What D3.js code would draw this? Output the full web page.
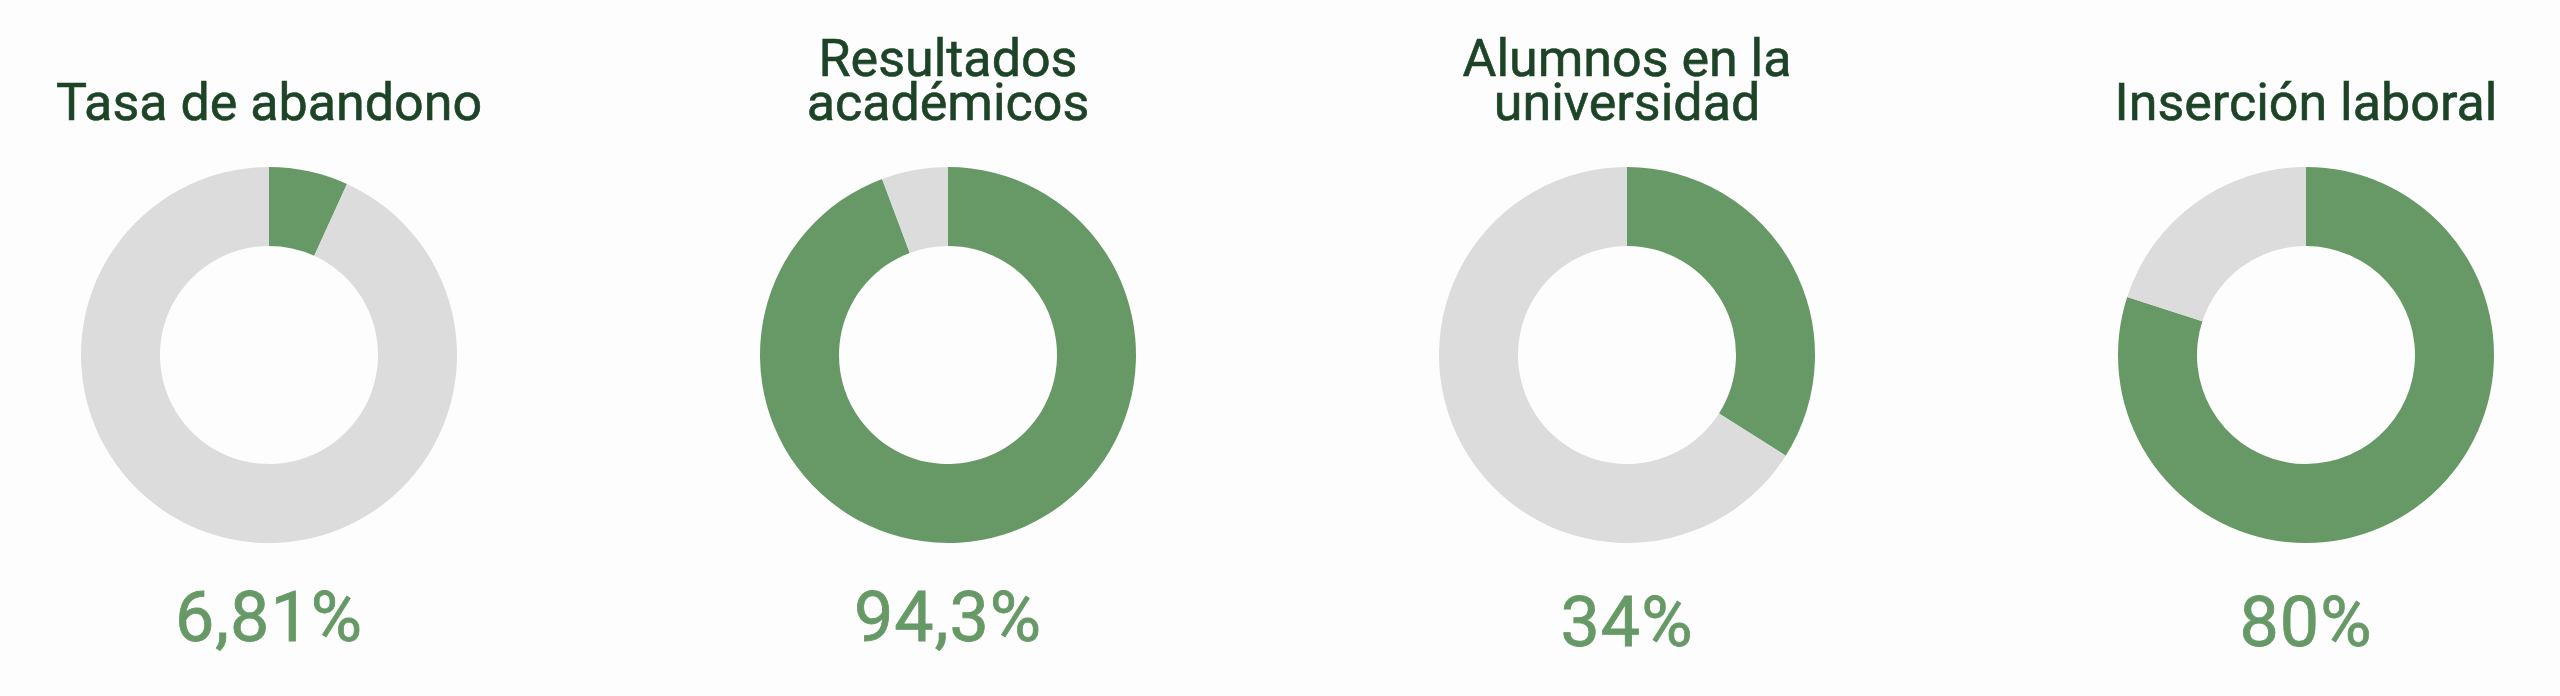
<!DOCTYPE html>
<html>
<head>
<meta charset="utf-8">
<script src="https://cdn.jsdelivr.net/npm/d3@7"></script>
<style>
  html, body { margin: 0; padding: 0; background: #fdfdfd; }
  svg { display: block; }
</style>
</head>
<body>
<svg id="chart" width="2560" height="696"></svg>
<script>
// ---- data ----
const categories = ["Tasa de abandono", "Resultados académicos", "Alumnos en la universidad", "Inserción laboral"];
const titleLines = [["Tasa de abandono"], ["Resultados", "académicos"], ["Alumnos en la", "universidad"], ["Inserción laboral"]];
const values = [6.81, 94.3, 34, 80];
const valueLabels = ["6,81%", "94,3%", "34%", "80%"];

// ---- layout / style ----
const W = 2560, H = 696;
const cy = 355, rOuter = 188, rInner = 109;
const titleBaseline = 120, titleLineGap = 44;
const valueBaselines = [641, 641, 646, 646];
const green = "#679967", grey = "#dcdcdc", titleColor = "#1d4427";
const fontFamily = "Roboto, 'Open Sans', sans-serif";

const svg = d3.select("#chart");
svg.append("rect").attr("width", W).attr("height", H).attr("fill", "#fdfdfd");

const x = d3.scalePoint().domain(categories).range([269, 2306]);
const pie = d3.pie().sort(null).value(d => d);
const arc = d3.arc().innerRadius(rInner).outerRadius(rOuter);
const colors = [green, grey];

categories.forEach((cat, i) => {
  const g = svg.append("g").attr("transform", `translate(${x(cat)},0)`);

  // title
  const lines = titleLines[i];
  const t = g.append("text")
    .attr("text-anchor", "middle")
    .attr("fill", titleColor)
    .attr("font-family", fontFamily)
    .attr("font-size", 52)
    .attr("font-weight", 400)
    .attr("stroke", titleColor)
    .attr("stroke-width", 0.6);
  lines.forEach((ln, j) => {
    t.append("tspan")
      .attr("x", 0)
      .attr("y", titleBaseline - (lines.length - 1 - j) * titleLineGap)
      .text(ln);
  });

  // donut
  const dg = g.append("g").attr("transform", `translate(0,${cy})`);
  dg.selectAll("path")
    .data(pie([values[i], 100 - values[i]]))
    .join("path")
    .attr("d", arc)
    .attr("fill", (d, k) => colors[k]);

  // value label
  g.append("text")
    .attr("x", 0)
    .attr("y", valueBaselines[i])
    .attr("text-anchor", "middle")
    .attr("fill", green)
    .attr("stroke", green)
    .attr("stroke-width", 0.8)
    .attr("font-family", fontFamily)
    .attr("font-size", 70)
    .attr("font-weight", 400)
    .attr("letter-spacing", 1)
    .text(valueLabels[i]);
});
</script>
</body>
</html>
